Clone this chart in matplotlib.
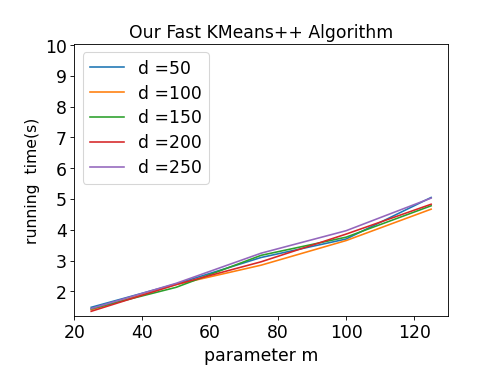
import matplotlib
matplotlib.use("Agg")
import matplotlib.pyplot as plt

m_values = [25, 50, 75, 100, 125]
d_labels = ["d =50", "d =100", "d =150", "d =200", "d =250"]
times_d50 = [1.48, 2.24, 3.10, 3.70, 5.05]
times_d100 = [1.40, 2.22, 2.85, 3.65, 4.67]
times_d150 = [1.43, 2.13, 3.17, 3.76, 4.78]
times_d200 = [1.35, 2.22, 2.96, 3.86, 4.83]
times_d250 = [1.44, 2.26, 3.24, 3.97, 5.03]
series = [times_d50, times_d100, times_d150, times_d200, times_d250]

fig = plt.figure(figsize=(6.4, 4.8), dpi=77.8)
ax = fig.add_axes([0.149, 0.152, 0.751, 0.730])
for vals, lab in zip(series, d_labels):
    ax.plot(m_values, vals, label=lab, linewidth=1.5)

ax.set_xlim(20, 130)
ax.set_ylim(1.19, 10.05)
ax.set_yticks(range(2, 11))
ax.tick_params(labelsize=16)
ax.set_xlabel("parameter m", fontsize=16)
ax.set_ylabel("running  time(s)", fontsize=14.5)
ax.set_title("Our Fast KMeans++ Algorithm", fontsize=16)
ax.legend(loc="upper left", fontsize=16, labelspacing=0.4)
fig.savefig("out.png", dpi=77.8)
